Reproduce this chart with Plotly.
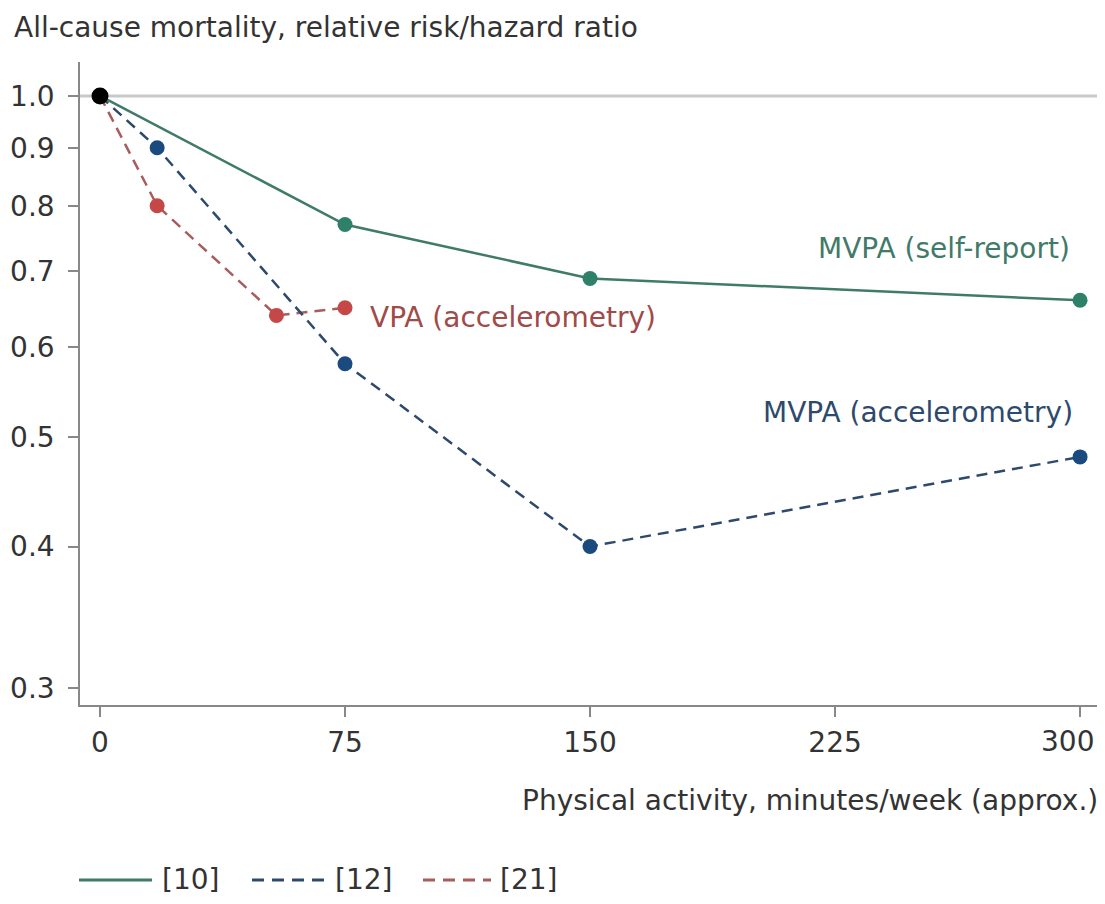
import numpy as np
import plotly.graph_objects as go

# Data
x10 = [0, 75, 150, 300]
y10 = [1.0, 0.77, 0.69, 0.66]
x12 = [0, 17.5, 75, 150, 300]
y12 = [1.0, 0.90, 0.58, 0.40, 0.48]
x21 = [0, 17.5, 54, 75]
y21 = [1.0, 0.80, 0.64, 0.65]
ref_x = [0]
ref_y = [1.0]
yticks = [0.3, 0.4, 0.5, 0.6, 0.7, 0.8, 0.9, 1.0]
xticks = [0, 75, 150, 225, 300]
xticklabels = ["0", "75", "150", "225", "300"]
legend_names = ["[10]", "[12]", "[21]"]

GREEN_L = "#3f7b68"; GREEN_M = "#2e8068"
BLUE_L = "#2d4a6c"; BLUE_M = "#1b4a7e"
RED_L = "#a85c5c"; RED_M = "#c44848"
TXT = "#333333"
FONT = "DejaVu Sans"
FS = 28

# figure geometry (figure px; page is offset by an 8px body margin)
W, H = 1097, 888
L, R, T, B = 72, 5, 54, 191
PW = W - L - R
PH = H - T - B


def px(xf):
    return (xf - L) / PW


def py(yf):
    return (H - B - yf) / PH


fig = go.Figure()
fig.add_hline(y=1.0, line=dict(color="#c8c8c8", width=3), layer="below")

fig.add_trace(go.Scatter(x=x10, y=y10, mode="lines+markers", showlegend=False,
                         line=dict(color=GREEN_L, width=2.5),
                         marker=dict(color=GREEN_M, size=15)))
fig.add_trace(go.Scatter(x=x21, y=y21, mode="lines+markers", showlegend=False,
                         line=dict(color=RED_L, width=2.5, dash="11px,7px"),
                         marker=dict(color=RED_M, size=15)))
fig.add_trace(go.Scatter(x=x12, y=y12, mode="lines+markers", showlegend=False,
                         line=dict(color=BLUE_L, width=2.5, dash="11px,7px"),
                         marker=dict(color=BLUE_M, size=15)))
fig.add_trace(go.Scatter(x=ref_x, y=ref_y, mode="markers", showlegend=False,
                         marker=dict(color="black", size=17)))

# manual legend (line sample + label)
leg_y = py(872)
leg_items = [(legend_names[0], GREEN_L, "solid", 71, 73, 152),
             (legend_names[1], BLUE_L, "12px,8px", 244, 73, 325),
             (legend_names[2], RED_L, "12px,8px", 415, 68, 490)]
for name, col, dash, x0, ln, tx in leg_items:
    fig.add_shape(type="line", xref="paper", yref="paper", x0=px(x0), x1=px(x0 + ln), y0=leg_y, y1=leg_y,
                  line=dict(color=col, width=3, dash=dash))
    fig.add_annotation(x=px(tx), y=leg_y, xref="paper", yref="paper", text=name, showarrow=False,
                       xanchor="left", yanchor="middle", font=dict(color=TXT, size=FS, family=FONT))

fig.add_annotation(x=297.5, y=np.log10(0.734), text="MVPA (self-report)", showarrow=False,
                   xanchor="right", yanchor="middle", font=dict(color=GREEN_L, size=FS, family=FONT))
fig.add_annotation(x=298.5, y=np.log10(0.525), text="MVPA (accelerometry)", showarrow=False,
                   xanchor="right", yanchor="middle", font=dict(color=BLUE_L, size=FS, family=FONT))
fig.add_annotation(x=82.0, y=np.log10(0.637), text="VPA (accelerometry)", showarrow=False,
                   xanchor="left", yanchor="middle", font=dict(color="#a04a4a", size=FS, family=FONT))

fig.add_annotation(x=px(4), y=py(19), xref="paper", yref="paper",
                   text="All-cause mortality, relative risk/hazard ratio",
                   showarrow=False, xanchor="left", yanchor="middle", font=dict(color=TXT, size=FS, family=FONT))
fig.add_annotation(x=1.0, y=py(792), xref="paper", yref="paper",
                   text="Physical activity, minutes/week (approx.)",
                   showarrow=False, xanchor="right", yanchor="middle", font=dict(color=TXT, size=FS, family=FONT))

# last x tick label sits slightly left of its tick (as in the reference)
fig.add_annotation(x=xticks[-1], xref="x", y=py(733), yref="paper", text=xticklabels[-1],
                   showarrow=False, xanchor="center", yanchor="middle", xshift=-13,
                   font=dict(color=TXT, size=FS, family=FONT))

fig.update_xaxes(range=[-6.12, 306.1], tickvals=xticks, ticktext=xticklabels[:-1] + [""], automargin=False,
                 showgrid=False, zeroline=False, showline=True, linecolor="#888888", linewidth=1.5,
                 ticks="outside", ticklen=10, tickcolor="#888888", tickwidth=1.5,
                 ticklabelstandoff=2,
                 tickfont=dict(size=FS, color=TXT, family=FONT))
fig.update_yaxes(type="log", range=[-0.5379, 0.030], tickvals=yticks, automargin=False,
                 ticktext=[f"{v:.1f}" for v in yticks],
                 showgrid=False, zeroline=False, showline=True, linecolor="#888888", linewidth=1.5,
                 ticks="outside", ticklen=10, tickcolor="#888888", tickwidth=1.5,
                 ticklabelstandoff=8,
                 tickfont=dict(size=FS, color=TXT, family=FONT))

fig.update_layout(width=W, height=H, margin=dict(l=L, r=R, t=T, b=B),
                  paper_bgcolor="white", plot_bgcolor="white", showlegend=False,
                  font=dict(family=FONT))
fig.write_html("out.html")
